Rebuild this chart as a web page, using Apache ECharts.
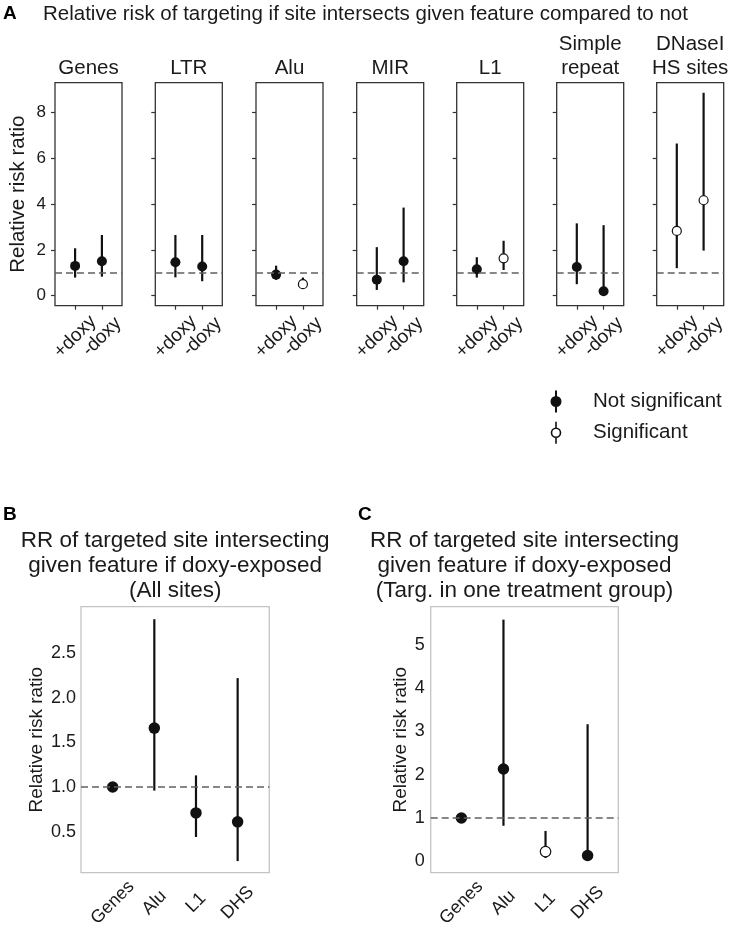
<!DOCTYPE html>
<html><head><meta charset="utf-8">
<script src="https://cdn.jsdelivr.net/npm/echarts@6/dist/echarts.min.js"></script>
<style>html,body{margin:0;padding:0;background:#fff}#c{width:733px;height:929px}</style>
</head><body><div id="c"></div>
<script>
// ---------------- DATA ----------------
// Panel A: relative risk of targeting if site intersects feature
const featuresA = ['Genes', 'LTR', 'Alu', 'MIR', 'L1', 'Simple\nrepeat', 'DNaseI\nHS sites'];
const groupsA = ['+doxy', '-doxy'];
const rrPlusDoxy  = [1.30, 1.46, 0.92, 0.70, 1.15, 1.25, 2.83];
const loPlusDoxy  = [0.79, 0.80, 0.69, 0.25, 0.79, 0.50, 1.20];
const hiPlusDoxy  = [2.07, 2.65, 1.31, 2.12, 1.68, 3.16, 6.65];
const sigPlusDoxy = [0, 0, 0, 0, 0, 0, 1];
const rrMinusDoxy  = [1.50, 1.27, 0.50, 1.50, 1.63, 0.19, 4.17];
const loMinusDoxy  = [0.83, 0.63, 0.35, 0.58, 1.12, 0.05, 1.97];
const hiMinusDoxy  = [2.65, 2.65, 0.79, 3.85, 2.40, 3.08, 8.87];
const sigMinusDoxy = [0, 0, 1, 0, 1, 0, 1];
const yTicksA = [0, 2, 4, 6, 8];

// Panels B and C
const featuresBC = ['Genes', 'Alu', 'L1', 'DHS'];
const rrB  = [1.00, 1.66, 0.71, 0.61];
const loB  = [0.97, 0.96, 0.44, 0.17];
const hiB  = [1.03, 2.88, 1.13, 2.22];
const sigB = [0, 0, 0, 0];
const yTicksB = [0.5, 1.0, 1.5, 2.0, 2.5];

const rrC  = [0.99, 2.13, 0.21, 0.12];
const loC  = [0.96, 0.81, 0.06, 0.02];
const hiC  = [1.02, 5.60, 0.69, 3.17];
const sigC = [0, 0, 1, 0];
const yTicksC = [0, 1, 2, 3, 4, 5];

const refValue = 1;
const legendNames = ['Not significant', 'Significant'];

// ---------------- LAYOUT / STYLE ----------------
const F = '"Liberation Sans", Arial, Helvetica, sans-serif';
const TXT = '#1a1a1a';
const H = 929;
const aLefts = [55, 155.3, 256, 356.7, 456.7, 556.7, 656.7];
const aTop = 82.7, aW = 67, aH = 223;
const aYmin = -0.44, aYmax = 9.31;
const bcTop = 606.7, bcH = 266;
const panelB = {left: 81, width: 188.3, ymin: 0.04, ymax: 3.02, xmin: -0.76, xmax: 3.76};
const panelC = {left: 430.7, width: 187.6, ymin: -0.28, ymax: 5.9, xmin: -0.73, xmax: 3.73};

const grids = [], xAxes = [], yAxes = [], series = [], titles = [];

function errSeries(idx, pts) {
  return {
    type: 'custom', xAxisIndex: idx, yAxisIndex: idx, z: 2, silent: true,
    encode: {x: 0, y: [1, 2]},
    data: pts,
    renderItem: function (params, api) {
      const x = api.value(0);
      const p1 = api.coord([x, api.value(1)]);
      const p2 = api.coord([x, api.value(2)]);
      return {type: 'line', shape: {x1: p1[0], y1: p1[1], x2: p2[0], y2: p2[1]},
              style: {stroke: '#111', lineWidth: 2.2}};
    }
  };
}
function pointSeries(idx, filled, open, size) {
  return [
    {type: 'scatter', name: legendNames[0], xAxisIndex: idx, yAxisIndex: idx, z: 3, silent: true,
     symbol: 'circle', symbolSize: size, itemStyle: {color: '#111', opacity: 1}, data: filled,
     markLine: {silent: true, symbol: 'none', label: {show: false}, animation: false,
                lineStyle: {type: [7, 4], color: '#606060', width: 1.5},
                data: [{yAxis: refValue}]}},
    {type: 'scatter', name: legendNames[1], xAxisIndex: idx, yAxisIndex: idx, z: 4, silent: true,
     symbol: 'circle', symbolSize: size - 1, itemStyle: {color: '#fff', borderColor: '#111', borderWidth: 1.2, opacity: 1},
     data: open}
  ];
}

// ---- Panel A ----
featuresA.forEach(function (feat, i) {
  grids.push({left: aLefts[i], top: aTop, width: aW, height: aH, show: true,
              borderColor: '#333', borderWidth: 1.3, backgroundColor: 'transparent',
              containLabel: false, outerBoundsMode: 'none'});
  xAxes.push({type: 'value', gridIndex: i, min: -0.75, max: 1.75, position: 'bottom',
    splitLine: {show: false}, axisLine: {show: false, onZero: false},
    axisTick: {show: true, customValues: [0, 1], length: 4, lineStyle: {color: '#333', width: 1.2}},
    axisLabel: {show: true, customValues: [0, 1], formatter: function (v) { return groupsA[Math.round(v)]; },
      rotate: 45, align: 'center', verticalAlign: 'middle', margin: 31,
      fontSize: 19, fontFamily: F, color: TXT}});
  yAxes.push({type: 'value', gridIndex: i, min: aYmin, max: aYmax, position: 'left',
    splitLine: {show: false}, axisLine: {show: false, onZero: false},
    axisTick: {show: true, customValues: yTicksA, length: 4, lineStyle: {color: '#333', width: 1.2}},
    axisLabel: {show: i === 0, customValues: yTicksA, margin: 9, fontSize: 17, fontFamily: F, color: TXT},
    name: i === 0 ? 'Relative risk ratio' : '', nameLocation: 'middle', nameGap: 26,
    nameTextStyle: {fontSize: 20.5, fontFamily: F, color: TXT}});
  const errs = [[0, loPlusDoxy[i], hiPlusDoxy[i]], [1, loMinusDoxy[i], hiMinusDoxy[i]]];
  const filled = [], open = [];
  (sigPlusDoxy[i] ? open : filled).push([0, rrPlusDoxy[i]]);
  (sigMinusDoxy[i] ? open : filled).push([1, rrMinusDoxy[i]]);
  series.push(errSeries(i, errs));
  series.push.apply(series, pointSeries(i, filled, open, 10));
  titles.push({text: feat, left: aLefts[i] + aW / 2, bottom: H - 80, textAlign: 'center', textVerticalAlign: 'top',
    padding: 0, textStyle: {fontSize: 20.5, fontWeight: 'normal', fontFamily: F, color: TXT, lineHeight: 24}});
});

// ---- Panels B and C ----
function addPanel(idx, P, rr, lo, hi, sig, yTicks, fmt, labelMargin, nameGap) {
  grids.push({left: P.left, top: bcTop, width: P.width, height: bcH, show: true,
              borderColor: '#c4c4c4', borderWidth: 1.3, backgroundColor: 'transparent',
              containLabel: false, outerBoundsMode: 'none'});
  const xs = featuresBC.map(function (_, k) { return k; });
  xAxes.push({type: 'value', gridIndex: idx, min: P.xmin, max: P.xmax, position: 'bottom',
    splitLine: {show: false}, axisLine: {show: false, onZero: false}, axisTick: {show: false},
    axisLabel: {show: true, customValues: xs, formatter: function (v) { return featuresBC[Math.round(v)]; },
      rotate: 45, align: 'center', verticalAlign: 'middle', margin: 30,
      fontSize: 18, fontFamily: F, color: TXT}});
  yAxes.push({type: 'value', gridIndex: idx, min: P.ymin, max: P.ymax, position: 'left',
    splitLine: {show: false}, axisLine: {show: false, onZero: false}, axisTick: {show: false},
    axisLabel: {show: true, customValues: yTicks, formatter: fmt, margin: labelMargin,
      fontSize: 18, fontFamily: F, color: TXT},
    name: 'Relative risk ratio', nameLocation: 'middle', nameGap: nameGap,
    nameTextStyle: {fontSize: 19, fontFamily: F, color: TXT}});
  const errs = [], filled = [], open = [];
  featuresBC.forEach(function (_, k) {
    errs.push([k, lo[k], hi[k]]);
    (sig[k] ? open : filled).push([k, rr[k]]);
  });
  series.push(errSeries(idx, errs));
  series.push.apply(series, pointSeries(idx, filled, open, 11.5));
}
addPanel(7, panelB, rrB, loB, hiB, sigB, yTicksB, function (v) { return v.toFixed(1); }, 5, 35);
addPanel(8, panelC, rrC, loC, hiC, sigC, yTicksC, function (v) { return String(v); }, 6, 20);

// ---- Titles ----
const boldLbl = {fontSize: 19, fontWeight: 'bold', fontFamily: F, color: '#000', lineHeight: 24};
titles.push({text: 'A', left: 3, top: 2, padding: 0, textStyle: boldLbl});
titles.push({text: 'Relative risk of targeting if site intersects given feature compared to not',
  left: 43, top: 2, padding: 0,
  textStyle: {fontSize: 20.5, fontWeight: 'normal', fontFamily: F, color: TXT, lineHeight: 24}});
titles.push({text: 'B', left: 3, top: 503, padding: 0, textStyle: boldLbl});
titles.push({text: 'C', left: 358, top: 503, padding: 0, textStyle: boldLbl});
const bcTitleStyle = {fontSize: 22.5, fontWeight: 'normal', fontFamily: F, color: TXT, lineHeight: 25};
titles.push({text: 'RR of targeted site intersecting\ngiven feature if doxy-exposed\n(All sites)',
  left: panelB.left + panelB.width / 2, top: 528, textAlign: 'center', textVerticalAlign: 'top',
  padding: 0, textStyle: bcTitleStyle});
titles.push({text: 'RR of targeted site intersecting\ngiven feature if doxy-exposed\n(Targ. in one treatment group)',
  left: panelC.left + panelC.width / 2, top: 528, textAlign: 'center', textVerticalAlign: 'top',
  padding: 0, textStyle: bcTitleStyle});

const ICON = 'path://M5,0L5,6.5M5,15.5L5,22M9.5,11A4.5,4.5,0,1,1,0.5,11A4.5,4.5,0,1,1,9.5,11Z';

const chart = echarts.init(document.getElementById('c'), null, {renderer: 'canvas'});
chart.setOption({
  animation: false,
  backgroundColor: '#fff',
  title: titles,
  legend: {
    left: 550.5, top: 389.5, orient: 'vertical', itemWidth: 64, itemHeight: 22, itemGap: 7.5,
    selectedMode: false, padding: 0, symbolKeepAspect: true,
    textStyle: {fontSize: 20.5, fontFamily: F, color: TXT},
    data: [
      {name: legendNames[0], icon: ICON, itemStyle: {color: '#111', borderColor: '#111', borderWidth: 2}},
      {name: legendNames[1], icon: ICON, itemStyle: {color: '#fff', borderColor: '#111', borderWidth: 1.6}}
    ]
  },
  grid: grids,
  xAxis: xAxes,
  yAxis: yAxes,
  series: series
});
</script>
</body></html>
